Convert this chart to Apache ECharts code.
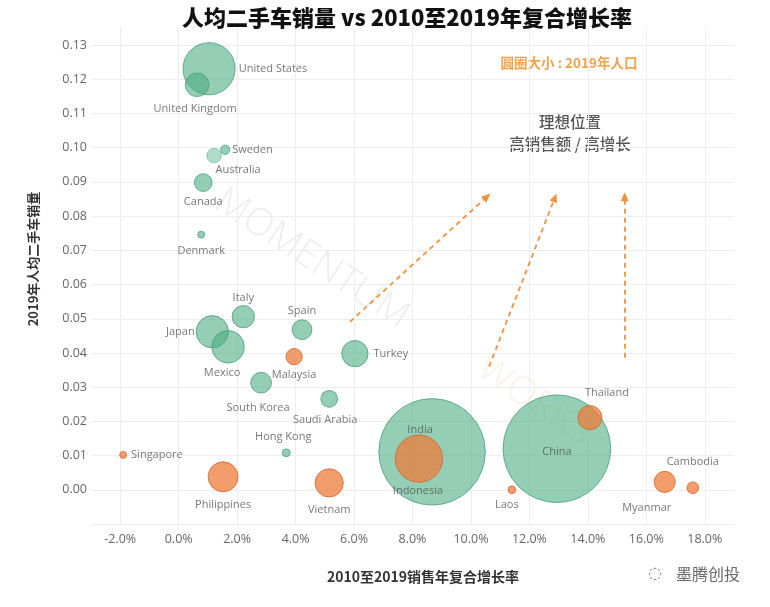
<!DOCTYPE html>
<html>
<head>
<meta charset="utf-8">
<script src="https://cdn.jsdelivr.net/npm/echarts@6/dist/echarts.min.js"></script>
<style>
html,body{margin:0;padding:0;background:#fff;}
#c{width:770px;height:607px;}
</style>
</head>
<body>
<div id="c"></div>
<script>
// ---- data ----
const countries = ['United States','United Kingdom','Sweden','Australia','Canada','Denmark','Japan','Mexico','Italy','Spain','Turkey','South Korea','Saudi Arabia','Hong Kong','India','China',
  'Malaysia','Singapore','Philippines','Vietnam','Indonesia','Thailand','Laos','Myanmar','Cambodia'];
// 2010-2019 CAGR of sales (x)
const cagr = [0.0104,0.0063,0.0159,0.0121,0.0084,0.0077,0.0115,0.0169,0.0221,0.0422,0.0603,0.0282,0.0515,0.0368,0.0867,0.1294,
  0.0395,-0.0190,0.0152,0.0515,0.0822,0.1407,0.1140,0.1663,0.1759];
// used cars per capita 2019 (y)
const perCapita = [0.1231,0.1184,0.0994,0.0977,0.0898,0.0746,0.0462,0.0418,0.0506,0.0468,0.0398,0.0313,0.0266,0.0108,0.0111,0.0120,
  0.0389,0.0102,0.0038,0.0020,0.0091,0.0211,0.0000,0.0023,0.0006];
// 2019 population, millions (bubble size)
const population = [328,67,10.3,25.4,37.6,5.8,126,127,60,47,83,52,34,7.5,1366,1398,
  32,5.7,108,96,270,70,7.2,54,16.5];
// group: 0 = other markets, 1 = Southeast Asia
const group = [0,0,0,0,0,0,0,0,0,0,0,0,0,0,0,0, 1,1,1,1,1,1,1,1,1];
const xTicks = [-0.02,0,0.02,0.04,0.06,0.08,0.10,0.12,0.14,0.16,0.18];
// dashed arrows [x1,y1,x2,y2] in data units
const arrows = [[0.0586,0.0491,0.1055,0.0857],[0.1062,0.0360,0.1287,0.0854],[0.1526,0.0386,0.1526,0.0857]];

// ---- label layout (style) ----
const labelLayout = {
  'United States':{position:'right',distance:3},
  'United Kingdom':{position:'bottom',distance:6,offset:[-2,0]},
  'Sweden':{position:'right',distance:2},
  'Australia':{position:'bottom',distance:1,offset:[24,0]},
  'Canada':{position:'bottom',distance:4},
  'Denmark':{position:'bottom',distance:7},
  'Japan':{position:'left',distance:1},
  'Mexico':{position:'bottom',distance:4,offset:[-6,0]},
  'Italy':{position:'top',distance:2},
  'Spain':{position:'top',distance:3},
  'Turkey':{position:'right',distance:5},
  'South Korea':{position:'bottom',distance:9,offset:[-3,0]},
  'Saudi Arabia':{position:'bottom',distance:7,offset:[-4,0]},
  'Hong Kong':{position:'top',distance:6,offset:[-3,0]},
  'India':{position:'inside',offset:[-12,-22]},
  'China':{position:'inside',offset:[0,3]},
  'Malaysia':{position:'bottom',distance:4},
  'Singapore':{position:'right',distance:4},
  'Philippines':{position:'bottom',distance:7},
  'Vietnam':{position:'bottom',distance:7},
  'Indonesia':{position:'inside',offset:[-1,32]},
  'Thailand':{position:'top',distance:7,offset:[17,0]},
  'Laos':{position:'bottom',distance:5,offset:[-5,0]},
  'Myanmar':{position:'bottom',distance:9,offset:[-18,0]},
  'Cambodia':{position:'top',distance:14}
};

const K = 1.44;
function buildData(g){
  const out = [];
  countries.forEach((n,i)=>{
    if(group[i]!==g) return;
    const item = {name:n, value:[cagr[i],perCapita[i],population[i]], label:Object.assign({show:true}, labelLayout[n])};
    if(n==='Australia') item.itemStyle = {color:'rgba(75,173,131,0.55)', borderColor:'rgba(74,157,122,0.6)'};
    out.push(item);
  });
  return out;
}

const labelStyle = {show:true, formatter:'{b}', color:'#555', fontSize:11, fontFamily:'Open Sans'};

const chart = echarts.init(document.getElementById('c'), null, {renderer:'canvas'});
chart.setOption({
  animation:false,
  backgroundColor:'#fff',
  title:{text:'人均二手车销量 vs 2010至2019年复合增长率', left:402, top:2, textAlign:'center',
    textStyle:{fontFamily:'Noto Sans CJK SC', fontWeight:900, fontSize:22, color:'#111'}},
  grid:{left:91, right:36, top:28, bottom:83},
  xAxis:{type:'value', min:-0.03, max:0.19, interval:0.01,
    axisLine:{show:false}, axisTick:{show:false},
    axisLabel:{margin:9, color:'#666', fontSize:12.5, fontFamily:'Open Sans',
      formatter:function(v){
        const p = Math.round(v*100);
        const ok = xTicks.some(t=>Math.round(t*100)===p);
        return ok ? (v*100).toFixed(1)+'%' : '';
      }},
    splitLine:{show:true, lineStyle:{color:['rgba(0,0,0,0)','#ededed'], width:1}}
  },
  yAxis:{type:'value', min:-0.01, max:0.135, interval:0.01,
    axisLine:{show:false}, axisTick:{show:false},
    axisLabel:{margin:4, color:'#666', fontSize:12.5, fontFamily:'Open Sans', showMaxLabel:false,
      formatter:function(v){ return v < -0.001 || v > 0.1305 ? '' : v.toFixed(2); }},
    splitLine:{show:true, showMaxLine:false, lineStyle:{color:'#ededed', width:1}}
  },
  graphic:[
    {type:'text', left:208, top:182, rotation:-0.58, z:0, silent:true,
      style:{text:'MOMENTUM', fill:'rgba(0,0,0,0.07)', font:'300 38px "Open Sans"'}},
    {type:'text', left:470, top:350, rotation:-0.58, z:0, silent:true,
      style:{text:'WORKS', fill:'rgba(245,150,60,0.12)', font:'300 38px "Open Sans"'}},
    {type:'text', x:33, y:259, rotation:Math.PI/2, silent:true,
      style:{text:'2019年人均二手车销量', fill:'#333', font:'600 13px "Noto Sans CJK SC"', align:'center', verticalAlign:'middle'}},
    {type:'text', x:423, y:577, silent:true,
      style:{text:'2010至2019销售年复合增长率', fill:'#333', font:'600 14px "Noto Sans CJK SC"', align:'center', verticalAlign:'middle'}},
    {type:'text', x:569, y:63, silent:true,
      style:{text:'圆圈大小 : 2019年人口', fill:'#f5a04a', font:'600 13.5px "Noto Sans CJK SC"', align:'center', verticalAlign:'middle'}},
    {type:'text', x:570, y:122, silent:true,
      style:{text:'理想位置', fill:'#555', font:'500 15.5px "Noto Sans CJK SC"', align:'center', verticalAlign:'middle'}},
    {type:'text', x:570, y:144, silent:true,
      style:{text:'高销售额 / 高增长', fill:'#555', font:'500 15.5px "Noto Sans CJK SC"', align:'center', verticalAlign:'middle'}},
    {type:'text', x:708, y:574, silent:true,
      style:{text:'墨腾创投', fill:'#666', font:'400 16px "Noto Sans CJK SC"', align:'center', verticalAlign:'middle'}},
    {type:'text', x:655, y:574, silent:true,
      style:{text:'◌', fill:'#888', font:'400 16px "DejaVu Sans"', align:'center', verticalAlign:'middle'}}
  ],
  series:[
    {type:'scatter', name:'others', z:3,
      symbolSize:function(v){ return 2*K*Math.sqrt(v[2]); },
      itemStyle:{color:'rgba(75,173,131,0.75)', borderColor:'#4a9d7a', borderWidth:1},
      label:labelStyle,
      data:buildData(0)},
    {type:'scatter', name:'sea', z:4,
      symbolSize:function(v){ return 2*K*Math.sqrt(v[2]); },
      itemStyle:{color:'rgba(240,122,56,0.92)', borderColor:'#d8642a', borderWidth:1},
      label:labelStyle,
      data:buildData(1),
      markLine:{silent:true, symbol:['none','triangle'], symbolSize:[8,9],
        label:{show:false},
        lineStyle:{type:[5,4], color:'#f39140', width:1.8, opacity:1},
        data: arrows.map(a=>[{coord:[a[0],a[1]]},{coord:[a[2],a[3]]}])}
    }
  ]
});
</script>
</body>
</html>
